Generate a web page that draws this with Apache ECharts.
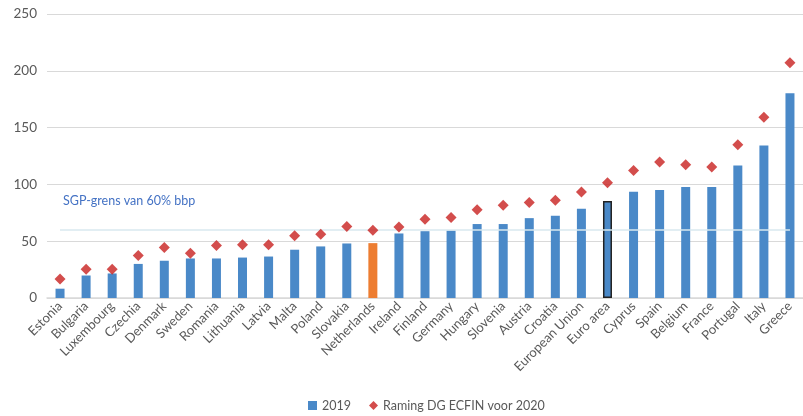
<!DOCTYPE html>
<html><head><meta charset="utf-8">
<script src="https://cdn.jsdelivr.net/npm/echarts@6/dist/echarts.min.js"></script>
<style>html,body{margin:0;padding:0;background:#fff}#c{width:803px;height:416px}</style>
</head><body><div id="c"></div>
<script>
const categories = ["Estonia","Bulgaria","Luxembourg","Czechia","Denmark","Sweden","Romania","Lithuania","Latvia","Malta","Poland","Slovakia","Netherlands","Ireland","Finland","Germany","Hungary","Slovenia","Austria","Croatia","European Union","Euro area","Cyprus","Spain","Belgium","France","Portugal","Italy","Greece"];
const debt2019 = [8.2,19.8,21.6,30.0,32.8,34.8,34.8,35.6,36.5,42.5,45.4,48.0,48.3,56.8,58.8,59.4,65.1,65.1,70.3,72.4,78.5,85.4,93.5,95.0,97.8,97.8,116.6,134.2,180.3];
const forecast2020 = [16.8,25.3,25.3,37.4,44.5,39.4,46.2,46.8,46.8,54.8,56.2,62.9,59.7,62.6,69.4,70.8,77.6,81.7,84.0,86.1,93.4,101.4,112.2,119.8,117.2,115.4,134.8,159.2,207.0];
const yTicks = [0,50,100,150,200,250];
const sgpLimit = 60;
const sgpLabel = "SGP-grens van 60% bbp";
const highlightNL = "Netherlands";
const highlightEA = "Euro area";

const font = "Lato";
const barData = debt2019.map((v,i)=>{
  const c = categories[i];
  if (c === highlightNL) return {value:v,itemStyle:{color:'#ED7D31'}};
  if (c === highlightEA) return {value:v,itemStyle:{color:'#4A89C8',borderColor:'#222',borderWidth:1.5}};
  return v;
});
const chart = echarts.init(document.getElementById('c'));
chart.setOption({
  animation:false,
  textStyle:{fontFamily:font},
  grid:{left:47,width:760,top:14,bottom:118},
  xAxis:{type:'category',data:categories,
    axisLine:{lineStyle:{color:'#d9d9d9',width:1.5}},
    axisTick:{show:false},
    axisLabel:{rotate:45,interval:0,color:'#595959',fontSize:13,fontFamily:font,margin:6}},
  yAxis:{type:'value',min:yTicks[0],max:yTicks[yTicks.length-1],interval:50,
    axisLine:{show:false},axisTick:{show:false},
    axisLabel:{color:'#595959',fontSize:13.5,fontFamily:font,margin:10},
    splitLine:{lineStyle:{color:'#d9d9d9',width:1}}},
  legend:{bottom:-1,left:303,itemGap:18,itemWidth:9,itemHeight:9,
    textStyle:{color:'#595959',fontSize:12.5,fontFamily:font},
    data:[{name:'2019',icon:'rect'},{name:'Raming DG ECFIN voor 2020',icon:'diamond'}]},
  graphic:[{type:'text',left:63,top:194,style:{text:sgpLabel,fill:'#4472C4',font:'12.5px '+font}}],
  series:[
    {name:'2019',type:'bar',data:barData,barWidth:9,itemStyle:{color:'#4A89C8'},
     markLine:{silent:true,symbol:['none','none'],label:{show:false},
       lineStyle:{color:'#d8e8ef',type:'solid',width:1.5},
       data:[[{coord:[0,sgpLimit]},{coord:[categories.length-1,sgpLimit]}]]}},
    {name:'Raming DG ECFIN voor 2020',type:'scatter',data:forecast2020,symbol:'diamond',symbolSize:[11,11],
     itemStyle:{color:'#C8201F'},z:5}
  ]
});
</script></body></html>
